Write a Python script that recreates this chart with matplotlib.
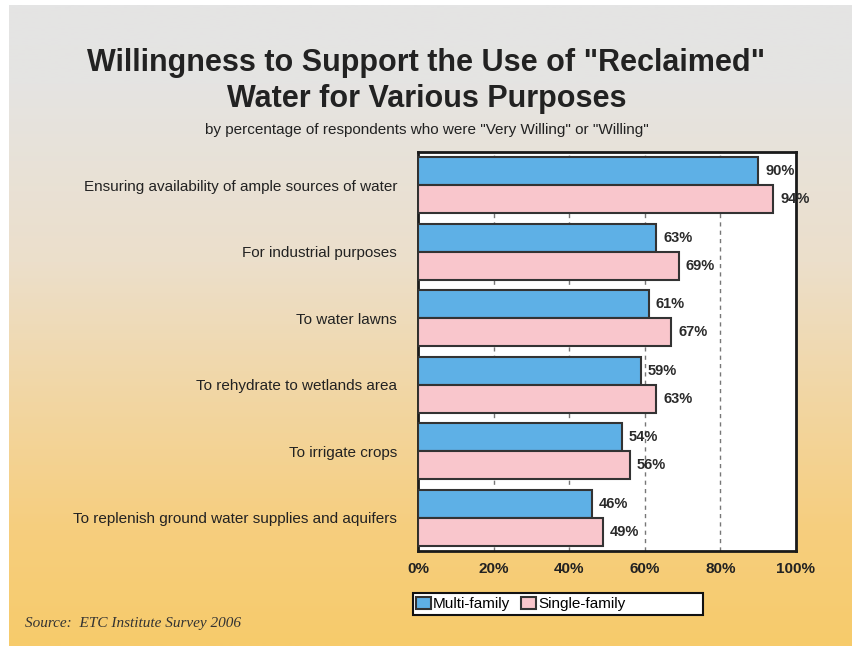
import numpy as np
import matplotlib
matplotlib.use("Agg")
from matplotlib import pyplot as plt
from matplotlib.colors import LinearSegmentedColormap
from matplotlib.patches import Rectangle

purposes = ["Ensuring availability of ample sources of water",
            "For industrial purposes",
            "To water lawns",
            "To rehydrate to wetlands area",
            "To irrigate crops",
            "To replenish ground water supplies and aquifers"]
multi_family = [90, 63, 61, 59, 54, 46]
single_family = [94, 69, 67, 63, 56, 49]
xticks = [0, 20, 40, 60, 80, 100]

plt.rcParams['font.family'] = ['Liberation Sans', 'DejaVu Sans']

fig = plt.figure(figsize=(8.53, 6.46), dpi=100)

# backdrop: grey at the top fading into warm yellow
bg = fig.add_axes([9 / 853, 0, 1 - 9 / 853, 1 - 5 / 646], zorder=-10)
cmap = LinearSegmentedColormap.from_list(
    "bg", [(0.0, "#e4e4e4"), (0.12, "#e5e4e2"), (0.4, "#ecdfcb"),
           (0.62, "#f2d6a2"), (0.82, "#f6ce7e"), (1.0, "#f7cb6b")])
bg.imshow(np.linspace(0, 1, 300).reshape(-1, 1), aspect="auto", cmap=cmap,
          extent=[0, 1, 1, 0])
bg.set_axis_off()

ax = fig.add_axes([418 / 853, 1 - 551 / 646, 378 / 853, 399 / 646])
ax.set_facecolor("white")

y = np.arange(len(purposes))
h = 0.42
ax.barh(y - h / 2, multi_family, height=h, color="#5eb0e6", edgecolor="#333333",
        linewidth=1.5, label="Multi-family", zorder=3)
ax.barh(y + h / 2, single_family, height=h, color="#f9c6cc", edgecolor="#333333",
        linewidth=1.5, label="Single-family", zorder=3)

for yy, v in zip(y - h / 2, multi_family):
    ax.annotate(f"{v}%", (v, yy), xytext=(5, 0), textcoords="offset points",
                va="center", ha="left", fontsize=10.5, fontweight="bold",
                color="#2a2a2a", zorder=4)
for yy, v in zip(y + h / 2, single_family):
    ax.annotate(f"{v}%", (v, yy), xytext=(5, 0), textcoords="offset points",
                va="center", ha="left", fontsize=10.5, fontweight="bold",
                color="#2a2a2a", zorder=4)

ax.set_xlim(0, 100)
ax.set_ylim(len(purposes) - 0.5, -0.5)
ax.set_xticks(xticks)
ax.set_xticklabels([f"{t}%" for t in xticks], fontsize=11, fontweight="bold",
                   color="#222222")
ax.set_yticks(y)
ax.set_yticklabels(purposes, fontsize=11, color="#222222")
ax.tick_params(axis="both", length=0)
ax.tick_params(axis="x", pad=8)
ax.tick_params(axis="y", pad=15)
for t in xticks[1:-1]:
    ax.axvline(t, color="#777777", linewidth=1, linestyle=(0, (3, 3)), zorder=1)
for s in ax.spines.values():
    s.set_linewidth(2)
    s.set_color("#1a1a1a")

fig.text(0.5, 1 - 71 / 646, "Willingness to Support the Use of \"Reclaimed\"",
         ha="center", va="baseline", fontsize=22, fontweight="bold",
         color="#222222")
fig.text(0.5, 1 - 107 / 646, "Water for Various Purposes",
         ha="center", va="baseline", fontsize=22, fontweight="bold",
         color="#222222")
fig.text(0.5, 1 - 134 / 646,
         "by percentage of respondents who were \"Very Willing\" or \"Willing\"",
         ha="center", va="baseline", fontsize=11, color="#222222")

# legend box
fig.patches.append(Rectangle((413 / 853, 1 - 615 / 646), 290 / 853, 22 / 646,
                             transform=fig.transFigure, facecolor="white",
                             edgecolor="#111111", linewidth=1.5, zorder=5))
leg = fig.legend(loc="center left", bbox_to_anchor=(414 / 853, 1 - 604 / 646),
                 ncol=2, frameon=False, fontsize=11, handlelength=1.0,
                 handleheight=0.8, handletextpad=0.15, columnspacing=0.7,
                 borderpad=0.1, borderaxespad=0)
leg.set_zorder(6)

fig.text(25 / 853, 1 - 627 / 646, "Source:  ETC Institute Survey 2006",
         family="Liberation Serif", style="italic", fontsize=11,
         color="#333333", va="baseline")

fig.savefig("out.png", dpi=100)
